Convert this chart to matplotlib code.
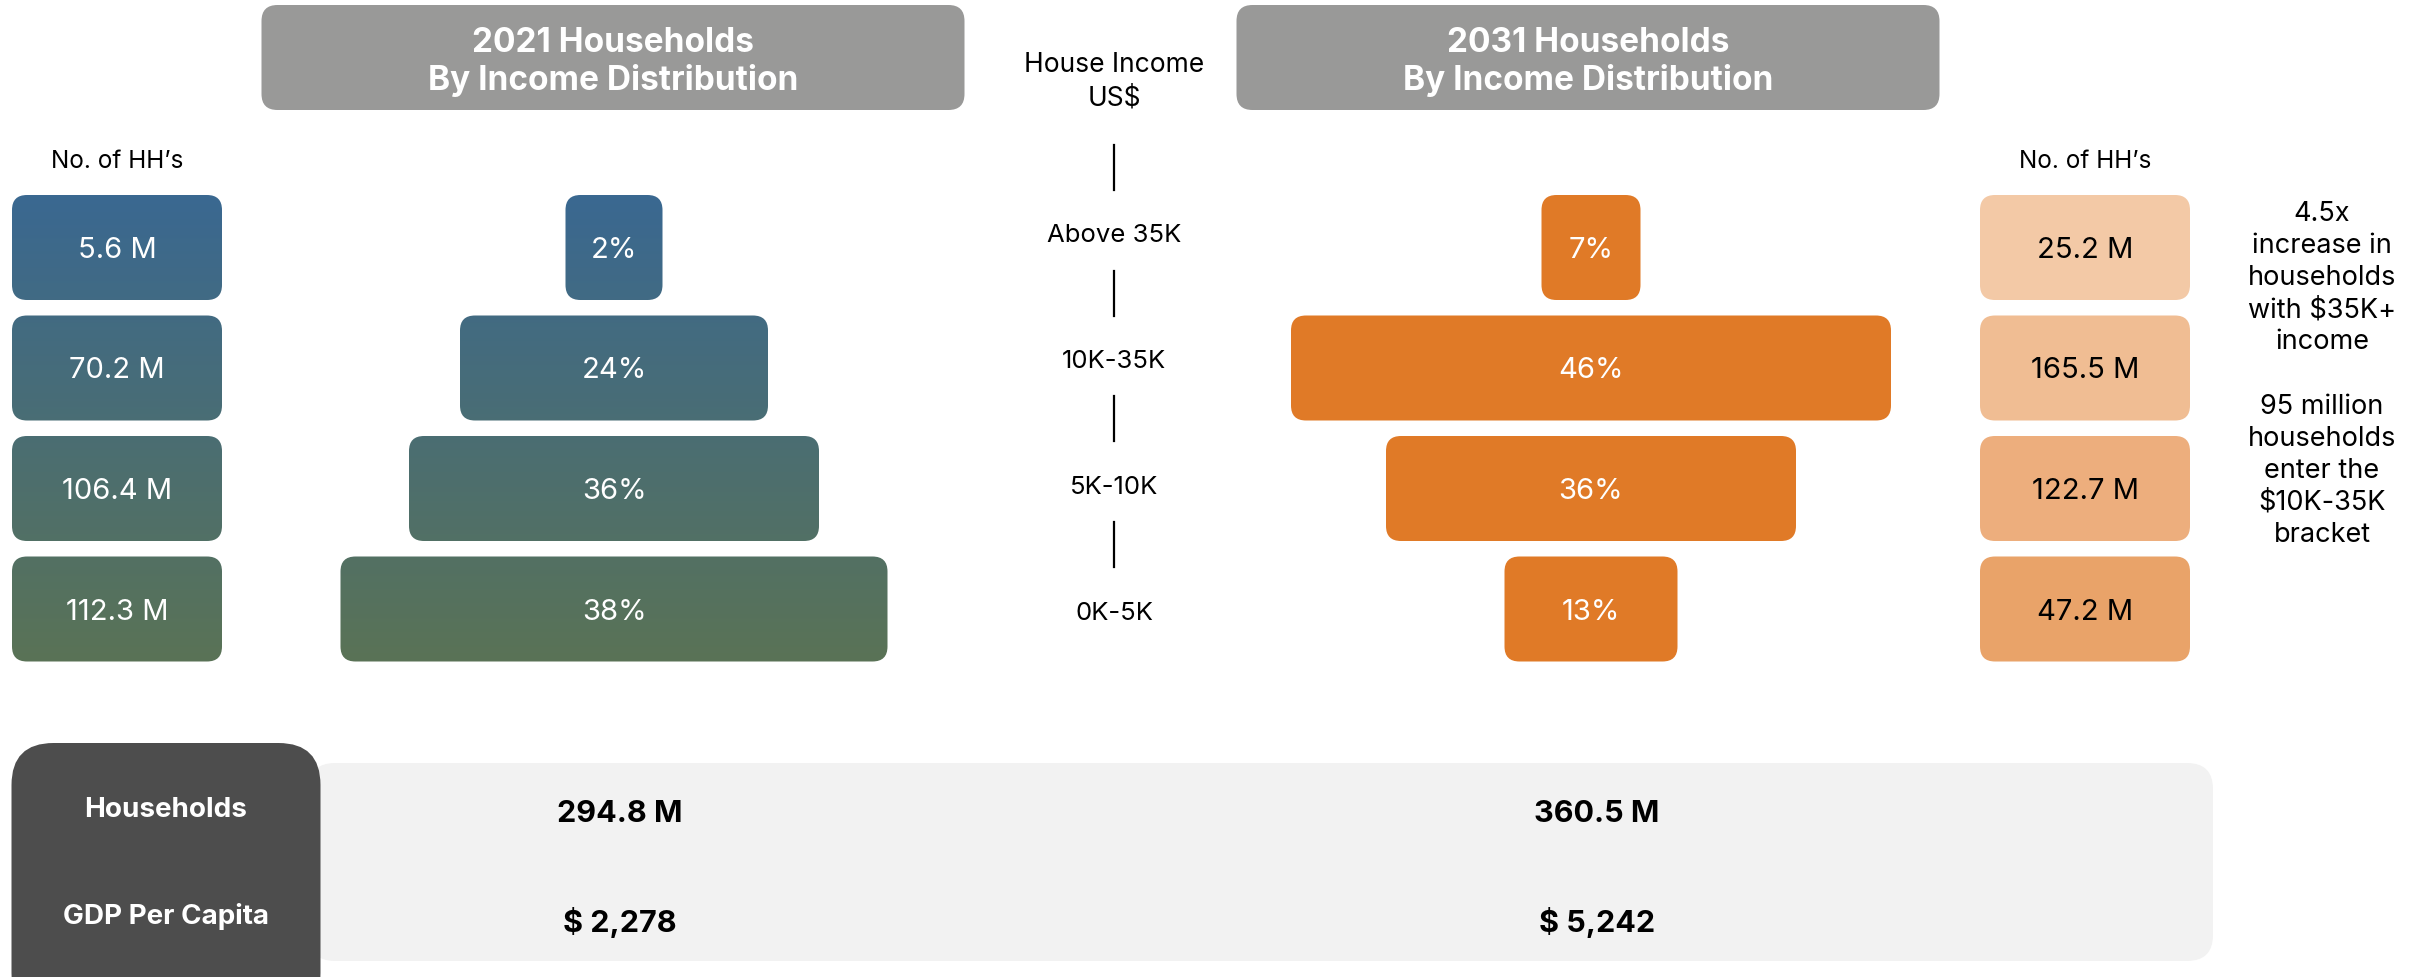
import numpy as np
import matplotlib.pyplot as plt
from matplotlib.patches import FancyBboxPatch
from matplotlib.colors import LinearSegmentedColormap

plt.rcParams['font.family'] = ['Inter', 'DejaVu Sans']

# data
brackets = ["Above 35K", "10K-35K", "5K-10K", "0K-5K"]
hh_2021 = [5.6, 70.2, 106.4, 112.3]      # million households
share_2021 = [2, 24, 36, 38]             # %
hh_2031 = [25.2, 165.5, 122.7, 47.2]
share_2031 = [7, 46, 36, 13]
years = [2021, 2031]
total_hh = [294.8, 360.5]
gdp_pc = [2278, 5242]
note_lines = ["4.5x", "increase in", "households", "with $35K+", "income", "",
              "95 million", "households", "enter the", "$10K-35K", "bracket"]

# layout (pixel units, y down)
W, H = 2425, 978
row_top, row_h, row_pitch = 196, 105, 120.5
hh_w = 210
hh_cx = [117, 2085]
bar_cx = [614, 1591]
# drawn widths of the funnel bars in the original (not proportional to share)
bar_w = [[97, 308, 410, 547], [99, 600, 410, 173]]
mid_x = 1114
title_cx = [613, 1588]
title_w = 703

grad_top, grad_bot = "#3a6891", "#5a7356"
orange = "#e07a27"
peach = ["#f3c9a6", "#f0bd93", "#edae7d", "#e9a369"]

fig = plt.figure(figsize=(W / 100, H / 100), dpi=100)
ax = fig.add_axes([0, 0, 1, 1])
ax.set_xlim(0, W)
ax.set_ylim(H, 0)
ax.axis('off')

cmap = LinearSegmentedColormap.from_list("bluegreen", [grad_top, grad_bot])
grad = np.linspace(0, 1, 256).reshape(-1, 1)
grad_y0 = row_top
grad_y1 = row_top + 3 * row_pitch + row_h


def rbox(cx, cy, w, h, r, fc, z=2):
    p = FancyBboxPatch((cx - w / 2, cy - h / 2), w, h,
                       boxstyle=f"round,pad=0,rounding_size={r}",
                       fc=fc, ec='none', zorder=z)
    ax.add_patch(p)
    return p


def grad_box(cx, cy, w, h, r):
    p = rbox(cx, cy, w, h, r, 'none')
    im = ax.imshow(grad, cmap=cmap, extent=(0, W, grad_y1, grad_y0),
                   origin='upper', aspect='auto', zorder=2)
    im.set_clip_path(p)


# header boxes
for i, yr in enumerate(years):
    rbox(title_cx[i], 58.5, title_w, 105, 16, "#999998")
    ax.text(title_cx[i], 62, f"{yr} Households\nBy Income Distribution",
            ha='center', va='center', color='white', fontsize=24,
            fontweight='bold', linespacing=1.2, zorder=3)

ax.text(mid_x, 82, "House Income\nUS$", ha='center', va='center',
        fontsize=19, linespacing=1.35)
for x in hh_cx:
    ax.text(x, 162, "No. of HH\u2019s", ha='center', va='center', fontsize=17.5)

# rows
for i in range(len(brackets)):
    cy = row_top + i * row_pitch + row_h / 2 + 2

    grad_box(hh_cx[0], cy - 2, hh_w, row_h, 15)
    ax.text(hh_cx[0], cy, f"{hh_2021[i]:.1f} M", ha='center', va='center',
            color='white', fontsize=21, zorder=4)

    grad_box(bar_cx[0], cy - 2, bar_w[0][i], row_h, 15)
    ax.text(bar_cx[0], cy, f"{share_2021[i]}%", ha='center', va='center',
            color='white', fontsize=21, zorder=4)

    rbox(bar_cx[1], cy - 2, bar_w[1][i], row_h, 15, orange)
    ax.text(bar_cx[1], cy, f"{share_2031[i]}%", ha='center', va='center',
            color='white', fontsize=21, zorder=4)

    rbox(hh_cx[1], cy - 2, hh_w, row_h, 15, peach[i])
    ax.text(hh_cx[1], cy, f"{hh_2031[i]:.1f} M", ha='center', va='center',
            color='black', fontsize=21, zorder=4)

    ly = 236 + i * 125.7
    ax.text(mid_x, ly, brackets[i], ha='center', va='center', fontsize=18.5)
    ax.plot([mid_x, mid_x], [ly - 90, ly - 45], color='black', lw=1.6)

# side notes, one line at a time
for k, line in enumerate(note_lines):
    ax.text(2322, 214 + k * 32.1, line, ha='center', va='center', fontsize=19.5)

# bottom summary
rbox(1261, 863, 1904, 198, 26, "#f2f2f2", z=1)
rbox(166, 880, 309, 272, 42, "#4d4d4d", z=2)
rows_y = [810, 917]
ax.text(166, rows_y[0], "Households", ha='center', va='center',
        color='white', fontsize=20, fontweight='bold', zorder=3)
ax.text(166, rows_y[1], "GDP Per Capita", ha='center', va='center',
        color='white', fontsize=20, fontweight='bold', zorder=3)
for i in range(len(years)):
    ax.text(bar_cx[i] + 6, rows_y[0] + 4, f"{total_hh[i]:.1f} M",
            ha='center', va='center', fontsize=22, fontweight='bold')
    ax.text(bar_cx[i] + 6, rows_y[1] + 6, f"$ {gdp_pc[i]:,}",
            ha='center', va='center', fontsize=22, fontweight='bold')

fig.savefig("out.png", dpi=100, facecolor='white')
